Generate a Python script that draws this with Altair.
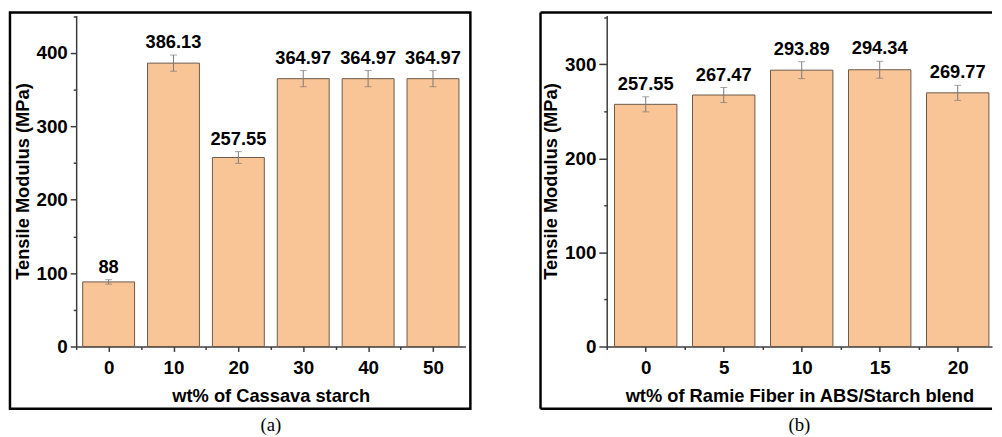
import altair as alt
import pandas as pd

# ---- data ----
a_wt = [0, 10, 20, 30, 40, 50]
a_mod = [88, 386.13, 257.55, 364.97, 364.97, 364.97]
a_err = [3, 11, 8, 11, 11, 11]
a_lbl = ["88", "386.13", "257.55", "364.97", "364.97", "364.97"]

b_wt = [0, 5, 10, 15, 20]
b_mod = [257.55, 267.47, 293.89, 294.34, 269.77]
b_err = [8, 8, 9, 9, 8]
b_lbl = ["257.55", "267.47", "293.89", "294.34", "269.77"]

a_xticks = [0, 10, 20, 30, 40, 50]
a_xminor = [-5, 5, 15, 25, 35, 45]
a_yticks = [0, 100, 200, 300, 400]
a_yminor = [50, 150, 250, 350, 450]

b_xticks = [0, 5, 10, 15, 20]
b_xminor = [-2.5, 2.5, 7.5, 12.5, 17.5]
b_yticks = [0, 100, 200, 300]
b_yminor = [50, 150, 250, 350]

FONT = "Liberation Sans"
AX = "#3c3c3c"
BAR = "#F9C496"
BAR_EDGE = "#6b5848"
ERR = "#7a7a7a"


def panel(wt, mod, err, lbl, xdom, ydom, half, xticks, xminor, yticks, yminor,
          xtitle, caption, w, h, full_frame, ytick, ytitlepad):
    df = pd.DataFrame({"wt": wt, "mod": mod, "err": err, "lbl": lbl})
    base = alt.Chart(df).transform_calculate(
        x0=f"datum.wt - {half}", x1=f"datum.wt + {half}",
        lo="datum.mod - datum.err", hi="datum.mod + datum.err")
    xs = alt.Scale(domain=xdom, nice=False, zero=False)
    ys = alt.Scale(domain=ydom, nice=False, zero=False)

    common = dict(domainColor=AX, tickColor=AX, domainWidth=1.5, tickWidth=1.5,
                  grid=False, labelFont=FONT, labelFontSize=19, labelFontWeight="bold",
                  labelColor="black", titleFont=FONT, titleFontSize=18.5,
                  titleFontWeight="bold", titleColor="black")
    xmain = alt.Axis(orient="bottom", values=xticks, format="d", tickSize=5,
                     labelPadding=7, title=xtitle, titlePadding=10, **common)
    ymain = alt.Axis(orient="left", values=yticks, format="d", tickSize=ytick,
                     labelPadding=3, title="Tensile Modulus (MPa)",
                     titlePadding=ytitlepad, **common)
    xmin = alt.Axis(orient="bottom", values=xminor, labels=False, domain=False,
                    tickSize=3, tickColor=AX, tickWidth=1.5, grid=False, title=None)
    ymin = alt.Axis(orient="left", values=yminor, labels=False, domain=False,
                    tickSize=3, tickColor=AX, tickWidth=1.5, grid=False, title=None)

    bars = base.mark_bar(fill=BAR, stroke=BAR_EDGE, strokeWidth=1).encode(
        x=alt.X("x0:Q", scale=xs, axis=xmain),
        x2="x1:Q",
        y=alt.Y("mod:Q", scale=ys, axis=ymain),
        y2=alt.datum(0),
    )
    rule = base.mark_rule(color=ERR, strokeWidth=1).encode(
        x=alt.X("wt:Q", scale=xs, axis=xmin),
        y=alt.Y("lo:Q", scale=ys, axis=ymin),
        y2="hi:Q",
    )
    cap_lo = base.mark_tick(orient="horizontal", size=7, thickness=1, color=ERR).encode(
        x=alt.X("wt:Q", scale=xs, axis=None),
        y=alt.Y("lo:Q", scale=ys, axis=None),
    )
    cap_hi = base.mark_tick(orient="horizontal", size=7, thickness=1, color=ERR).encode(
        x=alt.X("wt:Q", scale=xs, axis=None),
        y=alt.Y("hi:Q", scale=ys, axis=None),
    )
    text = base.mark_text(font=FONT, fontSize=18.5, fontWeight="bold", color="black",
                          baseline="bottom", dy=-3).encode(
        x=alt.X("wt:Q", scale=xs, axis=None),
        y=alt.Y("hi:Q", scale=ys, axis=None),
        text="lbl:N",
    )

    one = alt.Chart(pd.DataFrame({"k": [0]}))
    if full_frame:
        frame = [one.mark_rect(fillOpacity=0, stroke="black", strokeWidth=2.5).encode(
            x=alt.value(-67), x2=alt.value(w + 5), y=alt.value(-3), y2=alt.value(h + 63))]
    else:
        fr = dict(stroke="black", strokeWidth=2.5)
        frame = [
            one.mark_rule(**fr).encode(x=alt.value(-67), y=alt.value(-3), y2=alt.value(h + 63)),
            one.mark_rule(**fr).encode(x=alt.value(-67), x2=alt.value(w), y=alt.value(-3)),
            one.mark_rule(**fr).encode(x=alt.value(-67), x2=alt.value(w), y=alt.value(h + 63)),
        ]

    return alt.layer(*frame, bars, rule, cap_lo, cap_hi, text).resolve_axis(
        x="independent", y="independent").properties(
        width=w, height=h,
        title=alt.TitleParams(caption, orient="bottom", font="Liberation Serif",
                              fontSize=19, fontWeight="normal", color="black",
                              offset=6, anchor="middle"))


pa = panel(a_wt, a_mod, a_err, a_lbl, [-5, 55], [0, 451], 4,
           a_xticks, a_xminor, a_yticks, a_yminor,
           "wt% of Cassava starch", "(a)", 394, 335, True, 6, 4)
pb = panel(b_wt, b_mod, b_err, b_lbl, [-2.5, 22.2], [0, 352], 2,
           b_xticks, b_xminor, b_yticks, b_yminor,
           "wt% of Ramie Fiber in ABS/Starch blend", "(b)", 390, 335, False, 8, 4)

chart = alt.hconcat(pa, pb, spacing=67).properties(padding=0).configure_view(stroke=None)

chart.save("out.html", embed_options={"renderer": "svg", "actions": False})
